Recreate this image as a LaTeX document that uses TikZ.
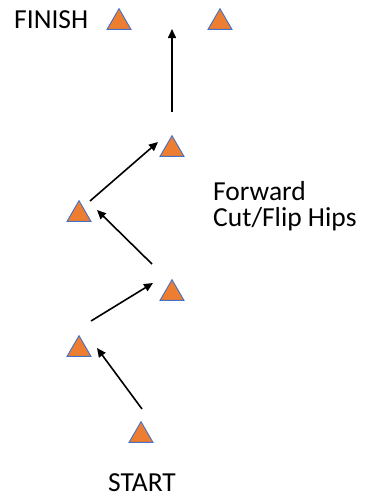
\documentclass[tikz,border=0pt]{standalone}
\usepackage{fontspec}
\setmainfont{Carlito}
\usetikzlibrary{shapes.geometric,arrows.meta}
\definecolor{triorange}{HTML}{ED7D31}
\definecolor{triblue}{HTML}{4472C4}
\tikzset{
  cone/.style={regular polygon, regular polygon sides=3, minimum size=27.7pt,
    inner sep=0pt, outer sep=0pt, draw=triblue, fill=triorange, line width=0.9pt},
  move/.style={line width=1.6pt, -{Triangle[length=9pt,width=8pt]}},
  lbl/.style={anchor=base west, inner sep=0pt, font=\fontsize{27.5}{31}\selectfont}
}
\begin{document}
\begin{tikzpicture}[x=1pt,y=-1pt]
\useasboundingbox (0,0) rectangle (374,498);
% cones (node centre = circumcentre, 3.5pt below box centre)
\node[cone] (T1) at (119,22.5) {};
\node[cone] (T2) at (220,22.5) {};
\node[cone] (T3) at (172,149.5) {};
\node[cone] (T4) at (79,214.5) {};
\node[cone] (T5) at (172,293.5) {};
\node[cone] (T6) at (79,349.5) {};
\node[cone] (T7) at (141,435.5) {};
% labels
\node[lbl] (finish) at (14,28) {FINISH};
\node[lbl] (start) at (108,491) {START};
\node[lbl] (fwd) at (213,200) {Forward};
\node[lbl] (cut) at (213,226) {Cut/Flip Hips};
% arrow ends
\coordinate (a1s) at (142,409); \coordinate (a1e) at (97,348);
\coordinate (a2s) at (91,321);  \coordinate (a2e) at (153,283);
\coordinate (a3s) at (152,264); \coordinate (a3e) at (97,210);
\coordinate (a4s) at (90,201);  \coordinate (a4e) at (158,142);
\coordinate (a5s) at (172,112); \coordinate (a5e) at (172,29);
\draw[move] (a1s) -- (a1e);
\draw[move] (a2s) -- (a2e);
\draw[move] (a3s) -- (a3e);
\draw[move] (a4s) -- (a4e);
\draw[move] (a5s) -- (a5e);
\end{tikzpicture}
\end{document}
